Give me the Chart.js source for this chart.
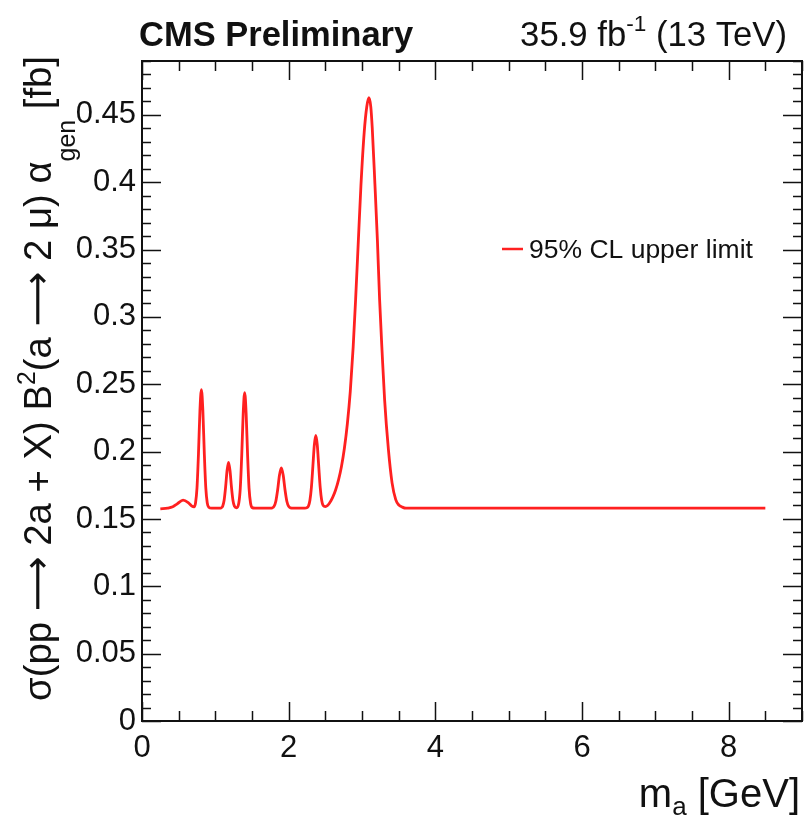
<!DOCTYPE html>
<html>
<head>
<meta charset="utf-8">
<script src="https://cdn.jsdelivr.net/npm/chart.js@4.4.0/dist/chart.umd.min.js"></script>
<style>
  html, body { margin: 0; padding: 0; background: #fff; }
  canvas { display: block; }
</style>
</head>
<body>
<canvas id="c" width="805" height="820"></canvas>
<script>
// Pseudoscalar mass m_a in GeV
const massGeV = [
  0.25, 0.35, 0.42, 0.48, 0.56, 0.63, 0.68, 0.71,
  0.73, 0.75, 0.77, 0.79, 0.81, 0.83, 0.85, 0.87, 0.89, 0.91, 0.95,
  1.06, 1.08, 1.10, 1.12, 1.14, 1.16, 1.18, 1.20, 1.22, 1.24, 1.26,
  1.29, 1.32, 1.34, 1.36, 1.38, 1.40, 1.42, 1.44, 1.46, 1.48, 1.50, 1.54,
  1.75, 1.775, 1.80, 1.825, 1.85, 1.875, 1.90, 1.925, 1.95, 1.975, 2.00, 2.025, 2.06,
  2.22, 2.25, 2.27, 2.29, 2.31, 2.33, 2.35, 2.37, 2.39, 2.41, 2.43, 2.45, 2.47, 2.50,
  2.53, 2.56, 2.60, 2.64, 2.68, 2.72, 2.76, 2.80, 2.84, 2.88, 2.913, 2.948, 2.985, 3.03, 3.065,
  3.094, 3.12, 3.14, 3.176, 3.21, 3.24, 3.275, 3.308, 3.36, 3.41, 3.46, 3.50, 3.55, 3.60,
  3.70, 5.00, 7.00, 8.50
];

// 95% CL upper limit on sigma * B^2 * alpha_gen, in fb
const limitFb = [
  0.1575, 0.158, 0.159, 0.1612, 0.164, 0.1622, 0.1595, 0.159,
  0.1619, 0.1731, 0.1983, 0.2304, 0.246, 0.2304, 0.1983, 0.1731, 0.1619, 0.1587, 0.158,
  0.158, 0.1583, 0.1595, 0.1639, 0.1736, 0.186, 0.192, 0.186, 0.1736, 0.1639, 0.1595,
  0.1583, 0.1618, 0.1727, 0.1972, 0.2285, 0.2437, 0.2285, 0.1972, 0.1727, 0.1618, 0.1585, 0.158,
  0.158, 0.1582, 0.1593, 0.1632, 0.1717, 0.1827, 0.188, 0.1827, 0.1717, 0.1632, 0.1593, 0.1582, 0.158,
  0.158, 0.1584, 0.1597, 0.1639, 0.1735, 0.189, 0.205, 0.212, 0.205, 0.189, 0.1735, 0.1639, 0.160, 0.1592,
  0.160, 0.162, 0.166, 0.1715, 0.179, 0.189, 0.2025, 0.2205, 0.2445, 0.278, 0.313, 0.354, 0.397, 0.437, 0.456,
  0.4627, 0.456, 0.44, 0.3987, 0.357, 0.313, 0.273, 0.2388, 0.2016, 0.1768, 0.1644, 0.1605, 0.1588, 0.158,
  0.158, 0.158, 0.158, 0.158
];

const xTickLabels = ['0', '2', '4', '6', '8'];
const yTickLabels = ['0', '0.05', '0.1', '0.15', '0.2', '0.25', '0.3', '0.35', '0.4', '0.45'];
const seriesLabel = '95% CL upper limit';

const FONT = '"Liberation Sans", Arial, Helvetica, sans-serif';
const ARROW_FONT = '"DejaVu Sans", "Liberation Sans", sans-serif';
const INK = '#111';
const LINE_RED = '#ff2020';

function pieceFont(r, size) {
  const s = r.sup || r.sub ? size * 0.65 : size;
  return (r.bold ? 'bold ' : '') + s.toFixed(1) + 'px ' + (r.arrow ? ARROW_FONT : FONT);
}

function runsWidth(ctx, runs, size) {
  return runs.reduce((acc, r) => { ctx.font = pieceFont(r, size); return acc + ctx.measureText(r.t).width; }, 0);
}

// Draws a run of text pieces with optional super/subscripts.
function drawRuns(ctx, runs, x, y, size, align, subShift) {
  const total = runsWidth(ctx, runs, size);
  let cx = align === 'right' ? x - total : x;
  ctx.textAlign = 'left';
  ctx.textBaseline = 'alphabetic';
  runs.forEach(r => {
    ctx.font = pieceFont(r, size);
    let dy = 0;
    if (r.sup) dy = -size * 0.42;
    if (r.sub) dy = size * (subShift || 0.3);
    if (r.arrow) dy = -size * 0.02;
    ctx.fillText(r.t, cx, y + dy);
    cx += ctx.measureText(r.t).width;
  });
}

// Frame on all four sides with inward major/minor ticks.
const rootFrame = {
  id: 'rootFrame',
  afterDatasetsDraw(chart) {
    const { ctx, chartArea: a, scales: { x, y } } = chart;
    ctx.save();
    ctx.strokeStyle = INK;
    ctx.lineWidth = 1.5;
    ctx.beginPath();
    for (let v = 0; v <= x.max + 1e-9; v += 0.5) {
      const px = Math.round(x.getPixelForValue(v)) + 0.5;
      const major = Math.abs(v / 2 - Math.round(v / 2)) < 1e-6;
      const len = major ? 19 : 10;
      ctx.moveTo(px, a.bottom); ctx.lineTo(px, a.bottom - len);
      ctx.moveTo(px, a.top); ctx.lineTo(px, a.top + len);
    }
    for (let k = 0; k <= 49; k++) {
      const py = Math.round(y.getPixelForValue(k / 100)) + 0.5;
      const len = k % 5 === 0 ? 19 : 9;
      ctx.moveTo(a.left, py); ctx.lineTo(a.left + len, py);
      ctx.moveTo(a.right, py); ctx.lineTo(a.right - len, py);
    }
    ctx.stroke();
    ctx.lineWidth = 2;
    ctx.strokeRect(a.left, a.top, a.right - a.left, a.bottom - a.top);
    ctx.restore();
  }
};

// Header texts, axis titles and the legend entry.
const annotations = {
  id: 'annotations',
  afterDraw(chart) {
    const { ctx } = chart;
    ctx.save();
    ctx.fillStyle = INK;

    drawRuns(ctx, [{ t: 'CMS Preliminary', bold: true }], 139, 46, 34.5, 'left');
    drawRuns(ctx, [{ t: '35.9 fb' }, { t: '-1', sup: true }, { t: ' (13 TeV)' }], 787, 46, 34.7, 'right');

    // y-axis title, rotated, spanning from the lower part of the axis to its top end
    const yTitle = [
      { t: 'σ(pp ' }, { t: '⟶', arrow: true }, { t: ' 2a + X) B' }, { t: '2', sup: true },
      { t: '(a ' }, { t: '⟶', arrow: true }, { t: ' 2 μ) α' }, { t: 'gen', sub: true }, { t: ' [fb]' }
    ];
    const ySize = 38 * 645 / runsWidth(ctx, yTitle, 38);
    ctx.save();
    ctx.translate(51, 56);
    ctx.rotate(-Math.PI / 2);
    drawRuns(ctx, yTitle, 0, 0, ySize, 'right', 0.62);
    ctx.restore();

    // x-axis title, aligned to the right end of the axis
    drawRuns(ctx, [{ t: 'm' }, { t: 'a', sub: true }, { t: ' [GeV]' }], 800, 807, 40, 'right', 0.2);

    // legend entry
    ctx.strokeStyle = LINE_RED;
    ctx.lineWidth = 2.5;
    ctx.beginPath();
    ctx.moveTo(502, 249); ctx.lineTo(523, 249);
    ctx.stroke();
    drawRuns(ctx, [{ t: seriesLabel }], 529, 258, 26.5, 'left');

    ctx.restore();
  }
};

new Chart(document.getElementById('c'), {
  type: 'line',
  data: {
    datasets: [{
      label: seriesLabel,
      data: massGeV.map((m, i) => ({ x: m, y: limitFb[i] })),
      borderColor: LINE_RED,
      borderWidth: 2.8,
      pointRadius: 0,
      fill: false,
      cubicInterpolationMode: 'monotone'
    }]
  },
  options: {
    responsive: false,
    animation: false,
    devicePixelRatio: 1,
    layout: { padding: { left: 0, top: 61, right: 3, bottom: 0 } },
    plugins: { legend: { display: false }, tooltip: { enabled: false } },
    scales: {
      x: {
        type: 'linear', min: 0, max: 9,
        afterFit(s) { s.height = 99; },
        grid: { display: false, drawTicks: false },
        border: { display: false },
        ticks: {
          stepSize: 2, includeBounds: false, autoSkip: false, maxRotation: 0,
          padding: 9, color: INK, font: { family: FONT, size: 31 },
          callback: (v, i) => xTickLabels[i]
        }
      },
      y: {
        type: 'linear', min: 0, max: 0.49,
        afterFit(s) { s.width = 142; },
        grid: { display: false, drawTicks: false },
        border: { display: false },
        ticks: {
          stepSize: 0.05, includeBounds: false, autoSkip: false,
          padding: 6, color: INK, font: { family: FONT, size: 31 },
          callback: (v, i) => yTickLabels[i]
        }
      }
    }
  },
  plugins: [rootFrame, annotations]
});
</script>
</body>
</html>
